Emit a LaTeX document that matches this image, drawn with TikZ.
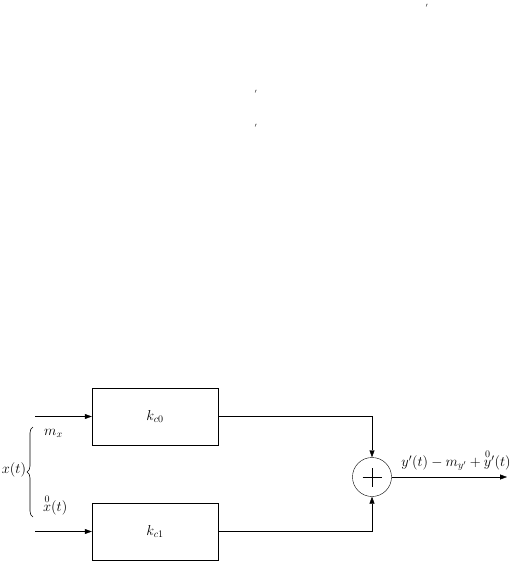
\documentclass[tikz,border=0pt]{standalone}
\usepackage{amsmath}
\usetikzlibrary{positioning, arrows.meta, calc, decorations.pathreplacing}

\begin{document}
\begin{tikzpicture}[
    x = 1pt, y = -1pt, % pixel-like grid, y downwards
    > = {Triangle[length=7pt, width=5pt]},
    thin,
    block/.style={rectangle, draw, minimum width=126pt, minimum height=57pt, inner sep=0pt, font=\Large},
    adder/.style={circle, draw, minimum size=39pt, inner sep=0pt},
    lbl/.style={font=\Large, inner sep=1pt},
    tick/.style={font=\small, inner sep=0pt}
]
\useasboundingbox (0,0) rectangle (516,561);

% --- stray primes at the top ---
\node[tick] (p1) at (427,8) {$'$};
\node[tick] (p2) at (256,94) {$'$};
\node[tick] (p3) at (256,128) {$'$};

% --- blocks ---
\node[block] (box0) at (155,416.5) {$k_{c0}$};
\node[block] (box1) at (155,531.5) {$k_{c1}$};

% --- adder ---
\node[adder] (sum) at (372,477) {};
\draw ([xshift=-9.5pt]sum.center) -- ([xshift=9.5pt]sum.center);
\draw ([yshift=-9.5pt]sum.center) -- ([yshift=9.5pt]sum.center);

% --- inputs ---
\coordinate (in0) at (35,416.5);
\coordinate (in1) at (35,531.5);
\draw[->] (in0) -- (box0.west);
\draw[->] (in1) -- (box1.west);

% --- brace with the split of x(t) ---
\coordinate (brbot) at (33,517);
\coordinate (brtop) at (33,427);
\draw[semithick, decorate, decoration={brace, amplitude=6pt}] (brbot) -- (brtop);
\node[lbl] (xt) at (14,470) {$x(t)$};
\node[lbl, anchor=west] (mx) at (43,433) {$m_x$};
\node[lbl, anchor=west] (x0) at (42,505) {$\overset{0}{x}(t)$};

% --- paths to the adder ---
\draw[->] (box0.east) -| (sum.north);
\draw[->] (box1.east) -| (sum.south);

% --- output ---
\coordinate (out) at (507,477);
\draw[->] (sum.east) -- (out);
\node[lbl] (ylbl) at (456,460) {$y'(t) - m_{y'} + \overset{0}{y}{}'(t)$};

\end{tikzpicture}
\end{document}
